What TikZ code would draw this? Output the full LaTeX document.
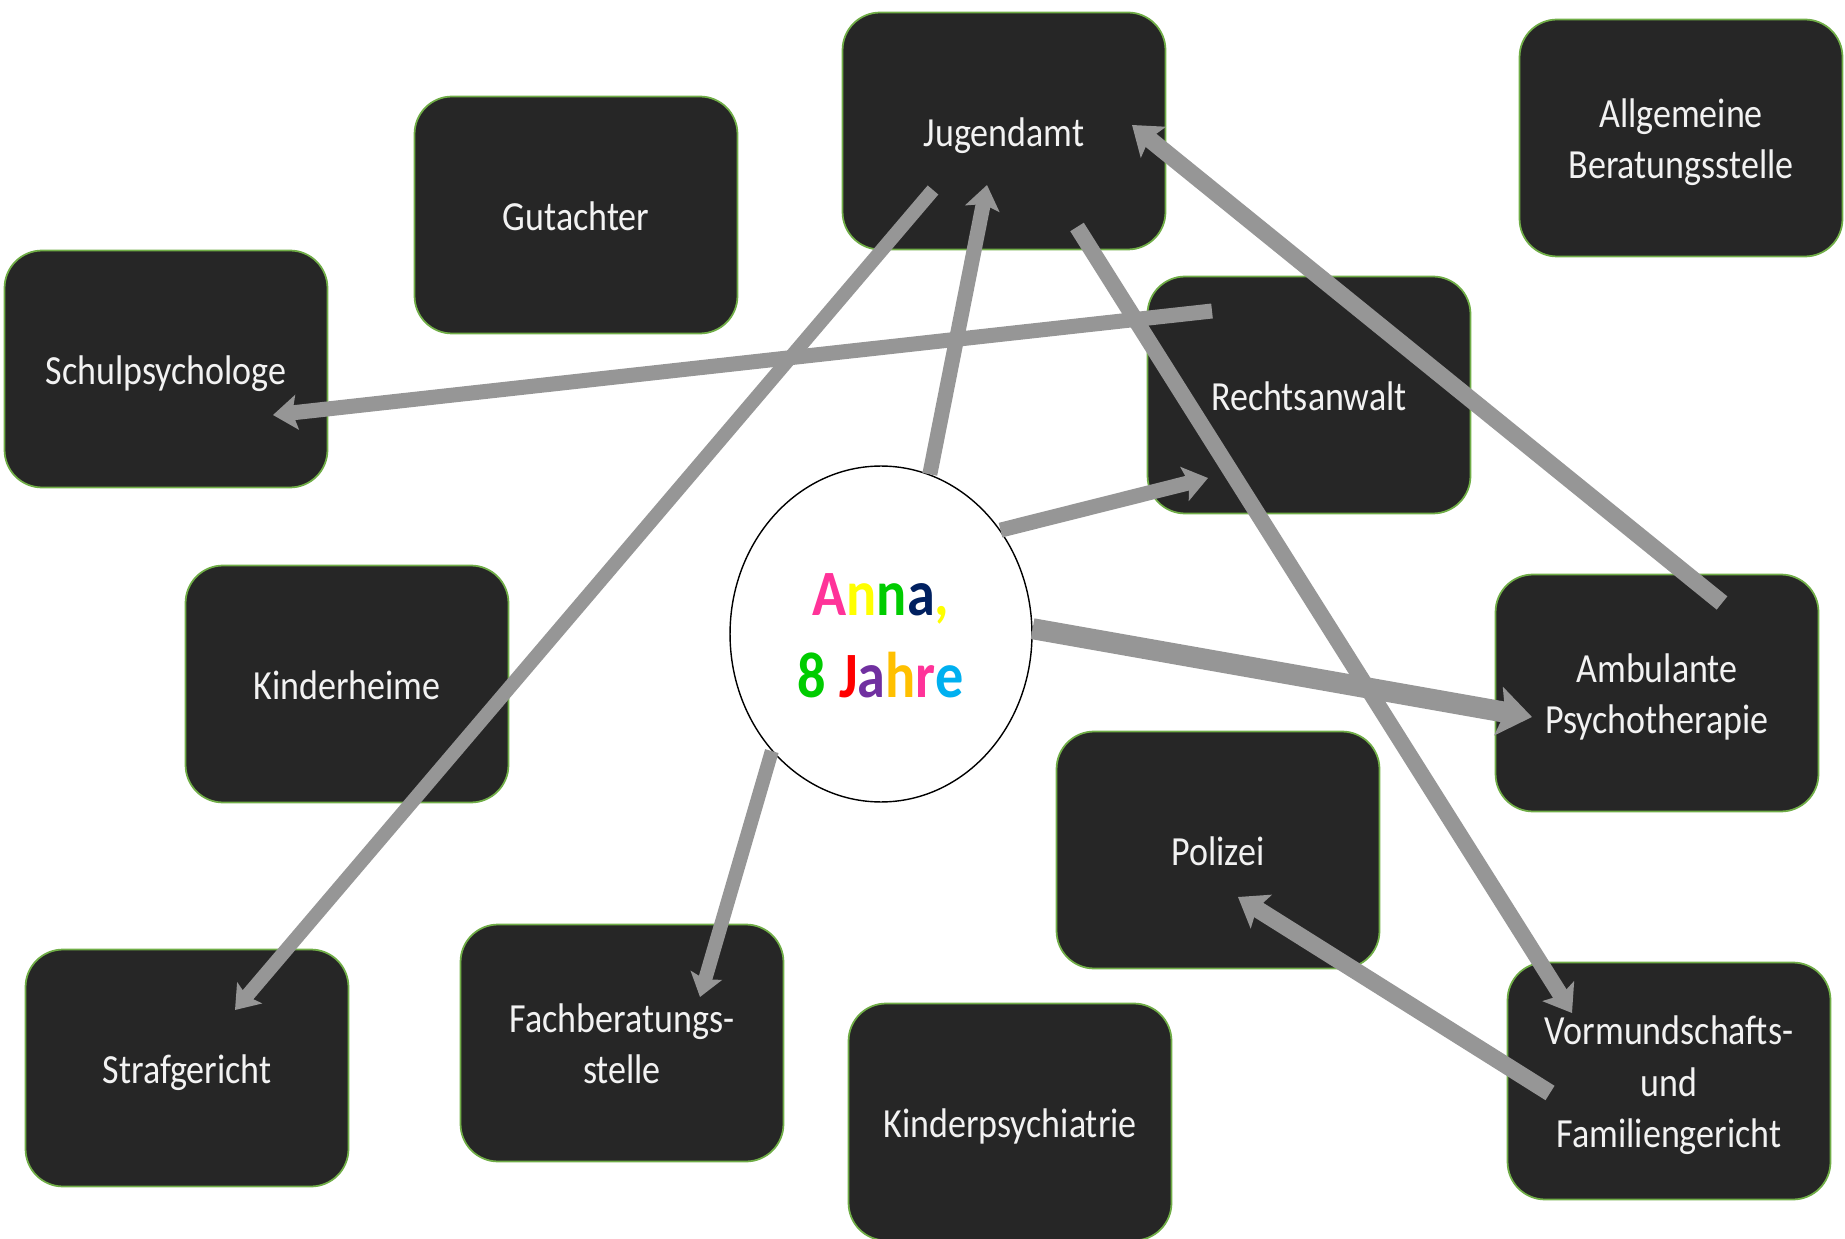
\documentclass[tikz,border=0pt]{standalone}
\usepackage{fontspec}
\setmainfont{Carlito}
\usepackage{tikz}
\usetikzlibrary{%
	arrows.meta,%
	shapes.geometric,% wg. ellipse
	calc%
}
\definecolor{boxfill}{HTML}{262626}
\definecolor{boxline}{HTML}{70AD47}
\definecolor{boxtext}{HTML}{F2F2F2}
\definecolor{linkgray}{HTML}{969696}
\definecolor{annapink}{HTML}{FF3399}
\definecolor{annayellow}{HTML}{FFFF00}
\definecolor{annagreen}{HTML}{00CC00}
\definecolor{annanavy}{HTML}{002060}
\definecolor{annared}{HTML}{FF0000}
\definecolor{annapurple}{HTML}{7030A0}
\definecolor{annagold}{HTML}{FFC000}
\definecolor{annablue}{HTML}{00B0F0}
\newcommand{\boxlabel}[1]{\raisebox{-2.7pt}[\height][\depth]{%
\scalebox{1}[1.15]{\begin{tabular}{@{}c@{}}#1\end{tabular}}}}

\begin{document}
\begin{tikzpicture}[
x=0.02cm,y=-0.02cm,
>={Stealth[length=0pt 1.6,width=0pt 2.3,inset=0pt 0.3]},
box/.style={rectangle,draw=boxline,line width=1pt,fill=boxfill,
rounded corners=0.75cm,minimum width=6.46cm,minimum height=4.74cm,
inner sep=0pt,text=boxtext,font=\fontsize{20.5}{25.6}\selectfont},
child/.style={ellipse,draw,line width=0.8pt,fill=white,
minimum width=6.04cm,minimum height=6.72cm,inner sep=0pt,
font=\fontsize{32}{41}\selectfont\bfseries},
link/.style={->,draw=linkgray,line width=0.3cm},
heavy/.style={line width=0.42cm}
]
\useasboundingbox (0,0) rectangle (1845,1239);

\node [box] (jugendamt)    at (1004,131)  {\boxlabel{Jugendamt}};
\node [box] (beratung)     at (1681,138)  {\boxlabel{Allgemeine\\Beratungsstelle}};
\node [box] (gutachter)    at (576,215)   {\boxlabel{Gutachter}};
\node [box] (schulpsy)     at (166,369)   {\boxlabel{Schulpsychologe}};
\node [box] (anwalt)       at (1309,395)  {\boxlabel{Rechtsanwalt}};
\node [box] (heime)        at (347,684)   {\boxlabel{Kinderheime}};
\node [box] (therapie)     at (1657,693)  {\boxlabel{Ambulante\\Psychotherapie}};
\node [box] (polizei)      at (1218,850)  {\boxlabel{Polizei}};
\node [box] (strafgericht) at (187,1068)  {\boxlabel{Strafgericht}};
\node [box] (fachstelle)   at (622,1043)  {\boxlabel{Fachberatungs-\\stelle}};
\node [box] (psychiatrie)  at (1010,1122) {\boxlabel{Kinderpsychiatrie}};
\node [box] (familie)      at (1669,1081) {\boxlabel{Vormundschafts-\\und\\Familiengericht}};

\node [child] (anna) at (881,634) {\raisebox{-3.4pt}[\height][\depth]{%
\scalebox{1}[1.15]{\begin{tabular}{@{}c@{}}%
{\color{annapink}A}{\color{annayellow}n}{\color{annagreen}n}{\color{annanavy}a}{\color{annayellow},}\\
{\color{annagreen}8} {\color{annared}J}{\color{annapurple}a}{\color{annagold}h}{\color{annapink}r}{\color{annablue}e}%
\end{tabular}}}};

\draw [link,line width=0.28cm] ($(jugendamt)+(-71,59)$) -- ($(strafgericht)+(48,-58)$);
\draw [link] (anna.73) -- ($(jugendamt)+(-17,54)$);
\draw [link,line width=0.32cm] ($(jugendamt)+(73,96)$) -- ($(familie)+(-97,-68)$);
\draw [link,line width=0.34cm] ($(therapie)+(65,-90)$) -- ($(jugendamt)+(128,-6)$);
\draw [link] ($(anwalt)+(-97,-84)$) -- ($(schulpsy)+(107,46)$);
\draw [link] (anna.41) -- ($(anwalt)+(-101,83)$);
\draw [link,heavy] (anna.2) -- ($(therapie)+(-125,24)$);
\draw [link,line width=0.28cm] (anna.227) -- ($(fachstelle)+(78,-46)$);
\draw [link,line width=0.34cm] ($(familie)+(-119,12)$) -- ($(polizei)+(20,47)$);
\end{tikzpicture}
\end{document}
